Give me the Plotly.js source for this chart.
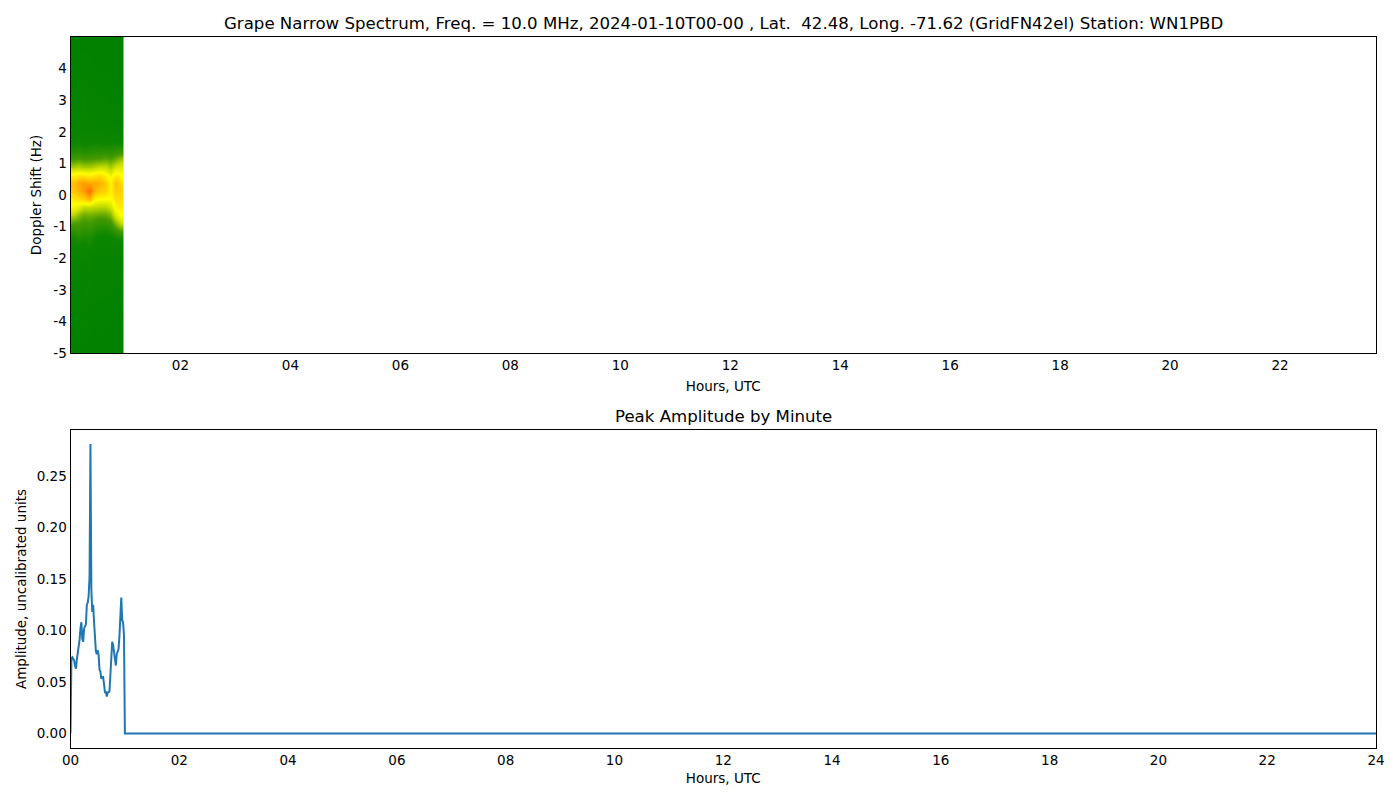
<!DOCTYPE html>
<html>
<head>
<meta charset="utf-8">
<script src="https://cdn.plot.ly/plotly-3.0.1.min.js"></script>
<style>html,body{margin:0;padding:0;background:#fff;}#chart{width:1400px;height:800px;}</style>
</head>
<body>
<div id="chart"></div>
<script>
// ---- Spectrogram (top panel) ----
const spectroHours = [0.048, 0.145, 0.242, 0.338, 0.435, 0.532, 0.628, 0.725, 0.822, 0.918];
const dopplerHz = [-4.875,-4.625,-4.375,-4.125,-3.875,-3.625,-3.375,-3.125,-2.875,-2.625,
                   -2.375,-2.125,-1.875,-1.625,-1.375,-1.125,-0.875,-0.625,-0.375,-0.125,
                    0.125, 0.375, 0.625, 0.875, 1.125, 1.375, 1.625, 1.875, 2.125, 2.375,
                    2.625, 2.875, 3.125, 3.375, 3.625, 3.875, 4.125, 4.375, 4.625, 4.875];
const spectroLevel = [
  [0.4,0.6,0.3,0.5,0.4,0.3,0.5,0.4,0.3,0.4],
  [0.5,0.4,0.6,0.3,0.5,0.4,0.3,0.5,0.4,0.3],
  [0.4,0.7,0.4,0.5,0.3,0.6,0.4,0.3,0.5,0.4],
  [0.6,0.5,0.8,0.4,0.5,0.4,0.6,0.4,0.3,0.5],
  [0.5,0.7,0.5,0.6,0.4,0.5,0.4,0.6,0.4,0.4],
  [0.6,0.5,0.7,0.5,0.6,0.4,0.5,0.4,0.5,0.5],
  [0.7,0.8,0.6,0.9,0.5,0.6,0.5,0.5,0.6,0.4],
  [0.8,0.7,1.2,0.8,0.7,0.6,0.7,0.6,0.5,0.6],
  [0.9,1.0,0.8,1.3,0.8,0.7,0.6,0.8,0.6,0.5],
  [1.0,0.9,1.1,0.9,1.0,0.8,0.7,0.7,0.8,0.6],
  [1.2,1.1,1.0,1.4,0.9,1.0,0.8,0.9,0.7,0.8],
  [1.3,1.5,1.2,1.6,1.1,1.0,0.9,1.0,0.9,0.9],
  [1.5,1.6,1.8,1.5,1.4,1.2,1.1,1.2,1.2,1.1],
  [1.8,2.0,1.9,2.1,1.7,1.5,1.4,1.5,1.6,1.5],
  [2.2,2.5,2.3,2.4,2.0,1.9,1.8,1.8,2.1,2.3],
  [2.8,3.0,2.8,2.9,2.6,2.4,2.3,2.5,3.0,3.5],
  [3.6,3.5,3.3,3.4,3.2,3.0,3.0,3.3,4.2,5.0],
  [4.8,4.3,3.9,4.0,3.9,3.8,3.8,4.2,5.4,6.0],
  [5.8,5.5,5.0,5.0,4.9,4.8,4.8,5.2,6.2,6.4],
  [6.4,6.6,6.8,7.4,6.2,6.0,6.0,6.0,6.6,6.6],
  [7.0,7.4,7.8,8.6,7.4,7.0,6.8,6.2,7.0,6.8],
  [7.2,7.6,7.8,7.6,7.6,7.4,7.0,6.2,7.2,6.6],
  [6.2,6.4,6.4,6.2,6.4,6.6,6.2,5.6,6.4,6.0],
  [4.6,4.8,4.6,4.6,4.8,5.0,5.0,4.6,5.2,5.4],
  [3.4,3.6,3.4,3.5,3.6,3.6,3.8,3.6,4.0,4.4],
  [2.6,2.8,2.6,2.7,2.8,2.8,2.9,2.8,3.0,3.2],
  [2.0,2.2,2.0,2.1,2.2,2.2,2.0,2.1,2.2,2.2],
  [1.5,1.8,1.6,1.7,1.6,1.7,1.5,1.6,1.6,1.5],
  [1.2,1.5,1.3,1.4,1.4,1.3,1.2,1.2,1.1,1.0],
  [1.0,1.2,1.4,1.1,1.2,1.0,0.9,0.9,0.8,0.8],
  [0.9,1.0,1.3,0.9,1.0,0.8,0.8,0.7,0.7,0.6],
  [0.8,0.9,1.4,0.8,0.9,0.7,0.7,0.6,0.6,0.5],
  [0.7,0.8,1.0,0.7,0.7,0.6,0.6,0.5,0.5,0.5],
  [0.6,0.8,0.7,0.6,0.6,0.5,0.6,0.5,0.4,0.4],
  [0.5,0.6,0.6,0.5,0.5,0.5,0.4,0.5,0.4,0.4],
  [0.5,0.5,0.6,0.4,0.5,0.4,0.5,0.4,0.4,0.3],
  [0.4,0.5,0.5,0.5,0.4,0.4,0.4,0.4,0.3,0.4],
  [0.4,0.4,0.5,0.4,0.4,0.3,0.4,0.3,0.4,0.3],
  [0.3,0.4,0.4,0.4,0.3,0.4,0.3,0.4,0.3,0.3],
  [0.3,0.3,0.4,0.3,0.3,0.3,0.3,0.3,0.3,0.3]
];

// ---- Peak amplitude by minute (bottom panel) ----
const ampMinutes = [0,1,2,3,4,5,6,7,8,9,10,11,12,13,14,15,16,17,18,19,
                    20,21,22,23,24,25,26,27,28,29,30,31,32,33,34,35,36,37,38,39,
                    40,41,42,43,44,45,46,47,48,49,50,51,52,53,54,55,56,57,58,59,
                    60,1440];
const ampValues = [0.000,0.073,0.074,0.072,0.071,0.066,0.063,0.072,0.078,0.085,
                   0.091,0.102,0.108,0.092,0.089,0.102,0.104,0.106,0.125,0.127,
                   0.133,0.152,0.281,0.140,0.118,0.125,0.108,0.085,0.080,0.077,
                   0.081,0.076,0.062,0.060,0.053,0.055,0.055,0.048,0.040,0.040,
                   0.036,0.040,0.040,0.041,0.055,0.075,0.089,0.086,0.078,0.068,
                   0.066,0.077,0.080,0.082,0.095,0.120,0.132,0.110,0.108,0.095,
                   0.000,0.000];

const topTickVals = [2,4,6,8,10,12,14,16,18,20,22];
const topTickText = ['02','04','06','08','10','12','14','16','18','20','22'];
const botTickVals = [0,2,4,6,8,10,12,14,16,18,20,22,24];
const botTickText = ['00','02','04','06','08','10','12','14','16','18','20','22','24'];
const dopplerTicks = [-5,-4,-3,-2,-1,0,1,2,3,4];
const dopplerTickText = ['-5','-4','-3','-2','-1','0','1','2','3','4'];
const ampTicks = [0,0.05,0.10,0.15,0.20,0.25];
const ampTickText = ['0.00','0.05','0.10','0.15','0.20','0.25'];

const FONT = 'DejaVu Sans, sans-serif';

const traces = [
  {
    type: 'heatmap',
    x: spectroHours,
    y: dopplerHz,
    z: spectroLevel,
    zmin: 0, zmax: 10,
    zsmooth: 'best',
    showscale: false,
    hoverinfo: 'skip',
    colorscale: [
      [0.00, 'rgb(0,128,0)'],
      [0.20, 'rgb(12,134,0)'],
      [0.35, 'rgb(70,155,0)'],
      [0.50, 'rgb(200,222,0)'],
      [0.60, 'rgb(255,255,0)'],
      [0.75, 'rgb(255,175,0)'],
      [0.90, 'rgb(255,80,0)'],
      [1.00, 'rgb(255,0,0)']
    ],
    xaxis: 'x', yaxis: 'y'
  },
  {
    type: 'scatter',
    mode: 'lines',
    x: ampMinutes.map(m => m / 60),
    y: ampValues,
    line: {color: '#1f77b4', width: 2},
    hoverinfo: 'skip',
    xaxis: 'x2', yaxis: 'y2'
  }
];

const axisCommon = {
  showline: true, mirror: true, linecolor: '#000', linewidth: 1,
  showgrid: false, zeroline: false, ticks: '', ticklen: 0,
  tickfont: {family: FONT, size: 13.5, color: '#000'}
};

const layout = {
  width: 1400, height: 800,
  margin: {l: 0, r: 0, t: 0, b: 0},
  paper_bgcolor: '#fff', plot_bgcolor: '#fff',
  showlegend: false,
  font: {family: FONT, color: '#000'},
  xaxis: Object.assign({}, axisCommon, {
    domain: [70.5/1400, 1376/1400], anchor: 'y',
    range: [0, 23.745],
    tickmode: 'array', tickvals: topTickVals, ticktext: topTickText,
    title: {text: 'Hours, UTC', font: {family: FONT, size: 13.5, color: '#000'}, standoff: 9}
  }),
  yaxis: Object.assign({}, axisCommon, {
    domain: [1 - 353/800, 1 - 37/800], anchor: 'x',
    range: [-5, 5],
    tickmode: 'array', tickvals: dopplerTicks, ticktext: dopplerTickText,
    title: {text: 'Doppler Shift (Hz)', font: {family: FONT, size: 13.5, color: '#000'}, standoff: 8}
  }),
  xaxis2: Object.assign({}, axisCommon, {
    domain: [70.5/1400, 1376/1400], anchor: 'y2',
    range: [0, 24],
    tickmode: 'array', tickvals: botTickVals, ticktext: botTickText,
    title: {text: 'Hours, UTC', font: {family: FONT, size: 13.5, color: '#000'}, standoff: 6}
  }),
  yaxis2: Object.assign({}, axisCommon, {
    domain: [1 - 748/800, 1 - 430/800], anchor: 'x2',
    range: [-0.014, 0.2945],
    tickmode: 'array', tickvals: ampTicks, ticktext: ampTickText,
    title: {text: 'Amplitude, uncalibrated units', font: {family: FONT, size: 13.5, color: '#000'}, standoff: 7}
  }),
  annotations: [
    {
      xref: 'paper', yref: 'paper', x: 723/1400, y: 1 - 23/800,
      xanchor: 'center', yanchor: 'middle', showarrow: false,
      text: 'Grape Narrow Spectrum, Freq. = 10.0 MHz, 2024-01-10T00-00 , Lat. \u00a042.48, Long. -71.62 (GridFN42el) Station: WN1PBD',
      font: {family: FONT, size: 16.6, color: '#000'}
    },
    {
      xref: 'paper', yref: 'paper', x: 723/1400, y: 1 - 416/800,
      xanchor: 'center', yanchor: 'middle', showarrow: false,
      text: 'Peak Amplitude by Minute',
      font: {family: FONT, size: 16.6, color: '#000'}
    }
  ]
};

Plotly.newPlot('chart', traces, layout, {staticPlot: true, displayModeBar: false});
</script>
</body>
</html>
